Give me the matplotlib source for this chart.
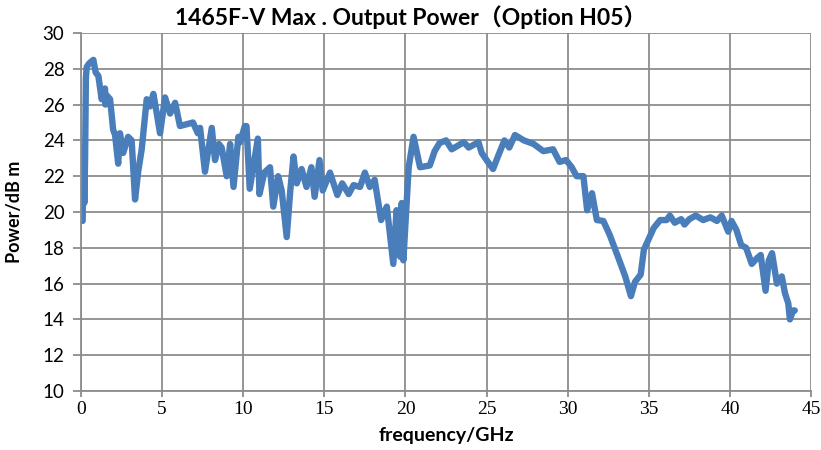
import matplotlib.pyplot as plt

# values
freq = [0.1, 0.15, 0.2, 0.25, 0.3, 0.35, 0.5, 0.76, 0.9, 1.07, 1.27, 1.48, 1.5, 1.6, 1.79,
        1.98, 2.1, 2.29, 2.4, 2.6, 2.9, 3.12, 3.33, 3.53, 3.74, 4.05, 4.25, 4.46, 4.67,
        4.87, 5.18, 5.49, 5.8, 6.1, 6.5, 6.9, 7.2, 7.34, 7.64, 8.06, 8.26, 8.5, 8.67,
        8.98, 9.19, 9.4, 9.7, 9.8, 10.1, 10.2, 10.4, 10.9, 11.0, 11.3, 11.65, 11.85,
        12.15, 12.37, 12.68, 12.9, 13.1, 13.3, 13.6, 13.9, 14.2, 14.4, 14.7, 14.9,
        15.35, 15.8, 16.1, 16.5, 16.8, 17.2, 17.5, 17.8, 18.1, 18.5, 18.85, 19.25,
        19.45, 19.67, 19.77, 19.87, 20.2, 20.5, 20.9, 21.5, 21.8, 22.1, 22.5, 22.85,
        23.6, 23.9, 24.5, 24.7, 25.0, 25.4, 25.7, 26.1, 26.4, 26.75, 27.3, 27.9, 28.5,
        29.1, 29.5, 29.9, 30.25, 30.55, 30.97, 31.2, 31.5, 31.8, 32.2, 32.6, 33.1,
        33.55, 33.9, 34.15, 34.5, 34.7, 35.0, 35.3, 35.7, 36.1, 36.3, 36.6, 37.0,
        37.2, 37.5, 37.9, 38.35, 38.8, 39.2, 39.5, 39.9, 40.1, 40.4, 40.7, 41.0,
        41.35, 41.65, 41.9, 42.2, 42.4, 42.6, 42.9, 43.2, 43.4, 43.6, 43.7, 43.9, 44.0]
power = [19.5, 23.5, 20.5, 23.0, 27.5, 28.1, 28.3, 28.5, 27.8, 27.6, 26.3, 26.9, 26.0, 26.5, 26.3,
         24.6, 24.3, 22.7, 24.4, 23.3, 24.2, 24.0, 20.7, 22.3, 23.5, 26.3, 25.9, 26.6, 25.5,
         24.4, 26.4, 25.5, 26.1, 24.8, 24.9, 25.0, 24.4, 24.7, 22.25, 24.7, 22.9, 23.8, 23.6,
         22.0, 23.8, 21.4, 24.2, 23.9, 24.8, 24.8, 21.3, 24.1, 21.0, 22.2, 22.5, 20.3,
         22.0, 21.2, 18.6, 21.2, 23.1, 21.6, 22.4, 21.4, 22.5, 20.85, 22.9, 21.2,
         22.2, 20.95, 21.6, 21.0, 21.5, 21.4, 22.2, 21.4, 21.8, 19.55, 20.3, 17.1,
         20.1, 17.5, 20.5, 17.3, 22.5, 24.2, 22.5, 22.6, 23.4, 23.85, 24.0, 23.5,
         23.9, 23.6, 23.9, 23.3, 22.9, 22.4, 23.1, 24.0, 23.6, 24.3, 24.0, 23.8, 23.4,
         23.5, 22.8, 22.9, 22.5, 22.0, 22.0, 20.1, 21.05, 19.55, 19.5, 18.7, 17.5,
         16.4, 15.3, 16.1, 16.5, 17.9, 18.5, 19.1, 19.55, 19.55, 19.8, 19.4, 19.6,
         19.3, 19.6, 19.8, 19.55, 19.7, 19.5, 19.8, 18.9, 19.5, 19.0, 18.15, 18.0,
         17.1, 17.4, 17.6, 15.6, 17.3, 17.7, 16.0, 16.4, 15.45, 14.9, 14.0, 14.5, 14.5]

x_ticks = list(range(0, 46, 5))
y_ticks = list(range(10, 31, 2))

fig = plt.figure(figsize=(8.21, 4.5), dpi=100)
ax = fig.add_axes([0.0987, 0.1311, 0.8891, 0.7956])

ax.plot(freq, power, color='#4a7ebb', linewidth=4.6, solid_joinstyle='round', solid_capstyle='round')

ax.set_xlim(0, 45)
ax.set_ylim(10, 30)
ax.set_xticks(x_ticks)
ax.set_yticks(y_ticks)
ax.grid(True, color='#8c8c8c', linewidth=1.3)
ax.set_axisbelow(True)
for side in ['top', 'right']:
    ax.spines[side].set_visible(False)
for side in ['left', 'bottom']:
    ax.spines[side].set_color('#8c8c8c')
    ax.spines[side].set_linewidth(1.3)
ax.tick_params(axis='both', colors='#8c8c8c', width=1.3, labelcolor='black')
ax.tick_params(axis='y', length=6, labelsize=13.5, pad=6)
ax.tick_params(axis='x', length=4, labelsize=14, pad=3)

fam = ['Lato', 'Noto Sans CJK SC']
for lab in ax.get_yticklabels():
    lab.set_family(fam)
for lab in ax.get_xticklabels():
    lab.set_family('Liberation Serif')

fig.text(0.5, 0.945, '1465F-V Max . Output Power（Option H05）', fontsize=16.5,
         fontweight='bold', family=fam, ha='center', va='baseline')
ax.set_xlabel('frequency/GHz', fontsize=14, fontweight='bold', family=fam)
ax.xaxis.set_label_coords(0.5, -0.1)
ax.set_ylabel('Power/dB m', fontsize=13, fontweight='bold', family=fam)
ax.yaxis.set_label_coords(-0.079, 0.5)

fig.savefig('out.png', dpi=100)
